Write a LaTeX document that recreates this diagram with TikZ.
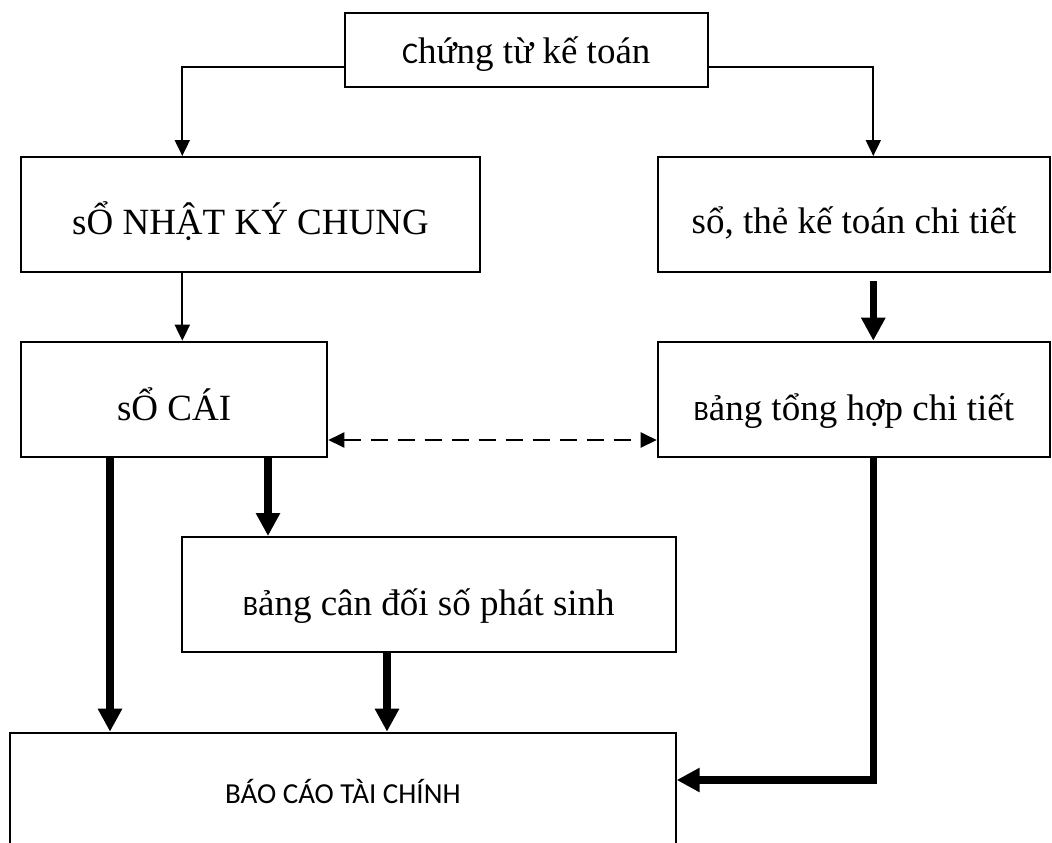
\documentclass[tikz,border=0pt]{standalone}
\usepackage{fontspec}
\setmainfont{Liberation Serif}
\newfontfamily\calibfont{Carlito}
\usetikzlibrary{arrows.meta}
\newcommand\bodysize{\fontsize{37}{44}\selectfont}
\newcommand\smallinit[2][30]{{\calibfont\fontsize{#1}{#1}\selectfont #2}}
\begin{document}
\begin{tikzpicture}[x=1pt,y=-1pt,
  box/.style={draw, line width=2pt, rectangle, inner sep=0pt, text depth=0pt, font=\bodysize},
  flowthin/.style={line width=2pt, -{Triangle[length=16pt,width=15pt]}},
  flowthick/.style={line width=7.5pt, -{Triangle[length=23pt,width=23pt]}},
  twoway/.style={line width=2.4pt, dash pattern=on 17pt off 10pt,
    {Triangle[length=16pt,width=15pt]}-{Triangle[length=16pt,width=15pt]}}]
\useasboundingbox (0,0) rectangle (1052,843);
\clip (0,0) rectangle (1052,843);

% boxes
\node[box, minimum width=362.7pt, minimum height=74.3pt, text height=27pt] (ct) at (526.3,49.8) {\smallinit{C}hứng từ kế toán};
\node[box, minimum width=459pt, minimum height=115.3pt, text height=39pt] (nk) at (250.5,214.65) {sỔ NHẬT KÝ CHUNG};
\node[box, minimum width=392pt, minimum height=115.3pt, text height=38pt] (st) at (854,214.65) {sổ, thẻ kế toán chi tiết};
\node[box, minimum width=306.3pt, minimum height=115.6pt, text height=42pt] (sc) at (174.15,399.5) {sỔ CÁI};
\node[box, minimum width=392.3pt, minimum height=115.6pt, text height=42pt] (th) at (853.85,399.5) {\smallinit[28]{B}ảng tổng hợp chi tiết};
\node[box, minimum width=493.7pt, minimum height=115pt, text height=41pt] (cd) at (428.85,594.5) {\smallinit[28]{B}ảng cân đối số phát sinh};
\node[box, minimum width=665.7pt, minimum height=117.3pt, text height=24pt,
  font=\calibfont\fontsize{29}{34}\selectfont] (bc) at (342.85,791.35) {BÁO CÁO TÀI CHÍNH};

% routing points
\coordinate (lc) at (182.3,66.7);
\coordinate (rc) at (873.3,66.7);
\coordinate (dl) at (0,440);
\coordinate (c1) at (110,0);
\coordinate (c2) at (268,0);
\coordinate (c3) at (387,0);
\coordinate (rb) at (873.3,780);

% connectors
\draw[flowthin] (ct.west |- lc) -- (lc) -- (lc |- nk.north);
\draw[flowthin] (ct.east |- rc) -- (rc) -- (rc |- st.north);
\draw[flowthin] (lc |- nk.south) -- (lc |- sc.north);
\draw[flowthick, shorten <=8pt] (rc |- st.south) -- (rc |- th.north);
\draw[twoway] (sc.east |- dl) -- (th.west |- dl);
\draw[flowthick] (c1 |- sc.south) -- (c1 |- bc.north);
\draw[flowthick] (c2 |- sc.south) -- (c2 |- cd.north);
\draw[flowthick] (c3 |- cd.south) -- (c3 |- bc.north);
\draw[flowthick] (rc |- th.south) -- (rb) -- (bc.east |- rb);
\end{tikzpicture}
\end{document}
